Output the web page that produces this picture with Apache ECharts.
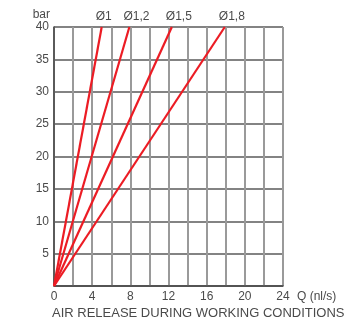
<!DOCTYPE html>
<html>
<head>
<meta charset="utf-8">
<script src="https://cdn.jsdelivr.net/npm/echarts@6/dist/echarts.min.js"></script>
<style>
html,body{margin:0;padding:0;background:#fff;}
#c{width:351px;height:327px;}
</style>
</head>
<body>
<div id="c"></div>
<script>
// Data
var seriesNames = ['Ø1', 'Ø1,2', 'Ø1,5', 'Ø1,8'];
var flowAt40 = [5, 7.9, 12.35, 17.9];   // Q (nl/s) reached at 40 bar
var pressureStart = 0;
var pressureEnd = 40;
var xTicks = [0, 4, 8, 12, 16, 20, 24];
var yTicks = [5, 10, 15, 20, 25, 30, 35, 40];
var xName = 'Q (nl/s)';
var yName = 'bar';
var caption = 'AIR RELEASE DURING WORKING CONDITIONS';

var FONT = '"Liberation Sans", Arial, sans-serif';
var TXT = '#4a4a4a';

var series = seriesNames.map(function (n, i) {
  return {
    name: n,
    type: 'line',
    symbol: 'circle',
    symbolSize: 1,
    showSymbol: true,
    silent: true,
    clip: false,
    lineStyle: { color: '#ec1c24', width: 2.2 },
    itemStyle: { color: 'rgba(236,28,36,0)', borderWidth: 0 },
    label: { show: false },
    data: [
      { value: [0, pressureStart] },
      { value: [flowAt40[i], pressureEnd],
        label: { show: true, position: 'top', align: 'left', distance: 4, offset: [-6, 0],
                 formatter: n, color: TXT, fontSize: 12, fontFamily: FONT } }
    ]
  };
});

var chart = echarts.init(document.getElementById('c'), null, { renderer: 'canvas' });
chart.setOption({
  animation: false,
  backgroundColor: '#fff',
  grid: { left: 54, right: 68, top: 27, bottom: 41, containLabel: false },
  xAxis: {
    type: 'value', min: 0, max: 24, interval: 2,
    name: xName, nameLocation: 'end', nameGap: 0,
    nameTextStyle: { color: TXT, fontSize: 12, fontFamily: FONT, align: 'left',
                     verticalAlign: 'top', padding: [5, 0, 0, 14] },
    axisLine: { show: true, lineStyle: { color: '#444', width: 1.5 } },
    axisTick: { show: false },
    axisLabel: { color: TXT, fontSize: 12, fontFamily: FONT, margin: 5,
                 formatter: function (v) { return xTicks.indexOf(v) >= 0 ? String(v) : ''; } },
    splitLine: { show: true, lineStyle: { color: '#9a9a9a', width: 2 } }
  },
  yAxis: {
    type: 'value', min: 0, max: 40, interval: 5,
    name: yName, nameLocation: 'end', nameGap: 11,
    nameTextStyle: { color: TXT, fontSize: 12, fontFamily: FONT, align: 'right',
                     verticalAlign: 'middle', padding: [0, 4, 0, 0] },
    axisLine: { show: true, lineStyle: { color: '#444', width: 1.5 } },
    axisTick: { show: false },
    axisLabel: { color: TXT, fontSize: 12, fontFamily: FONT, margin: 5,
                 formatter: function (v) { return yTicks.indexOf(v) >= 0 ? String(v) : ''; } },
    splitLine: { show: true, lineStyle: { color: '#5a5a5a', width: 1.5 } }
  },
  graphic: [{
    type: 'text', left: 52, top: 307,
    style: { text: caption, fill: TXT, font: '13px ' + FONT }
  }],
  series: series
});
</script>
</body>
</html>
